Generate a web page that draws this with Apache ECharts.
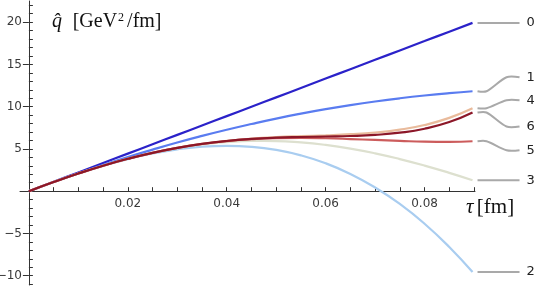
<!DOCTYPE html>
<html>
<head>
<meta charset="utf-8">
<script src="https://cdn.jsdelivr.net/npm/echarts@6/dist/echarts.min.js"></script>
<style>html,body{margin:0;padding:0;background:#fff}#c{width:545px;height:297px}</style>
</head>
<body>
<div id="c"></div>
<script>
const tau = [0, 0.005, 0.01, 0.015, 0.02, 0.025, 0.03, 0.035, 0.04, 0.045, 0.05, 0.055, 0.06, 0.065, 0.07, 0.075, 0.08, 0.085, 0.0897];
const order0 = [0, 1.11, 2.22, 3.33, 4.44, 5.55, 6.66, 7.77, 8.88, 9.99, 11.10, 12.21, 13.32, 14.43, 15.54, 16.65, 17.76, 18.87, 19.91];
const order1 = [0, 1.09, 2.12, 3.10, 4.04, 4.92, 5.76, 6.54, 7.27, 7.95, 8.59, 9.17, 9.70, 10.18, 10.61, 10.99, 11.32, 11.60, 11.82];
const order2 = [0, 1.08, 2.09, 3.00, 3.80, 4.46, 4.95, 5.27, 5.37, 5.25, 4.88, 4.24, 3.30, 2.04, 0.44, -1.51, -3.85, -6.60, -9.57];
const order3 = [0, 1.08, 2.09, 3.01, 3.83, 4.52, 5.09, 5.52, 5.80, 5.94, 5.93, 5.77, 5.47, 5.04, 4.48, 3.80, 3.03, 2.17, 1.30];
const order4 = [0, 1.08, 2.09, 3.01, 3.83, 4.54, 5.13, 5.60, 5.95, 6.21, 6.39, 6.51, 6.61, 6.74, 6.94, 7.28, 7.83, 8.67, 9.81];
const order5 = [0, 1.08, 2.09, 3.01, 3.83, 4.54, 5.12, 5.58, 5.92, 6.15, 6.27, 6.30, 6.26, 6.17, 6.06, 5.95, 5.86, 5.84, 5.91];
const order6 = [0, 1.08, 2.09, 3.01, 3.83, 4.54, 5.12, 5.59, 5.94, 6.18, 6.33, 6.41, 6.47, 6.53, 6.66, 6.92, 7.39, 8.18, 9.31];
const seriesLabels = ['0', '1', '2', '3', '4', '5', '6'];
const yTickLabels = [-10, -5, 5, 10, 15, 20];
const xTickLabels = [0.02, 0.04, 0.06, 0.08];

const allData = [order0, order1, order2, order3, order4, order5, order6];
const colors = ['#2b22c9', '#5a7cf0', '#a9cdf0', '#dde0cf', '#e9bb9c', '#cc5c5c', '#8c1728'];
const labelShift = [0, -14, 0, 0, -8, 9, 14];

const xMinor = [];
for (let i = 1; i <= 18; i++) xMinor.push(+(i * 0.005).toFixed(3));
const yMinor = [];
for (let v = -11; v <= 22; v++) yMinor.push(v);

const chart = echarts.init(document.getElementById('c'), null, {renderer: 'canvas'});
const fmtY = v => (v < 0 ? '\u2212' + Math.abs(v) : String(v));

const option = {
  animation: false,
  grid: {left: 20, right: 70, top: 1, bottom: 12, containLabel: false, outerBoundsMode: 'none'},
  xAxis: {
    type: 'value', min: -0.0018, max: 0.0902,
    axisLine: {onZero: true, onZeroAxisIndex: 0, lineStyle: {color: '#333', width: 1}},
    axisTick: {customValues: xMinor, inside: true, length: 4, lineStyle: {color: '#333'}},
    axisLabel: {customValues: xTickLabels, formatter: v => v.toFixed(2), margin: -87,
      color: '#3a3a3a', fontFamily: 'DejaVu Sans', fontSize: 12},
    splitLine: {show: false}
  },
  yAxis: [{
    type: 'value', min: -11.1, max: 22.5,
    axisLine: {onZero: true, onZeroAxisIndex: 0, lineStyle: {color: '#333', width: 1}},
    axisTick: {customValues: yTickLabels, inside: false, length: 6, lineStyle: {color: '#333'}},
    axisLabel: {customValues: yTickLabels, formatter: fmtY, margin: -2,
      color: '#3a3a3a', fontFamily: 'DejaVu Sans', fontSize: 12},
    splitLine: {show: false}
  }, {
    type: 'value', min: -11.1, max: 22.5, position: 'left',
    axisLine: {show: true, onZero: true, onZeroAxisIndex: 0, lineStyle: {color: '#333', opacity: 0}},
    axisTick: {customValues: yMinor, inside: true, length: 4, lineStyle: {color: '#333'}},
    axisLabel: {show: false},
    splitLine: {show: false}
  }],
  series: allData.map((d, i) => ({
    type: 'line', name: seriesLabels[i],
    data: d.map((v, j) => [tau[j], v]),
    smooth: true, showSymbol: false, symbol: 'none',
    lineStyle: {color: colors[i], width: 2.2},
    z: 2 + i
  }))
};
chart.setOption(option);

const graphics = [];
allData.forEach((d, i) => {
  const n = d.length - 1;
  const p = chart.convertToPixel({xAxisIndex: 0, yAxisIndex: 0}, [tau[n], d[n]]);
  const ly = p[1] + labelShift[i];
  graphics.push({
    type: 'polyline', silent: true,
    shape: {points: [[p[0] + 5, p[1]], [p[0] + 14, p[1]], [p[0] + 34, ly], [p[0] + 47, ly]], smooth: 0.3},
    style: {stroke: '#a9a9a9', lineWidth: 2, fill: null}
  });
  graphics.push({
    type: 'text', silent: true, x: p[0] + 54, y: ly,
    style: {text: seriesLabels[i], font: '13px "DejaVu Sans"', fill: '#222', verticalAlign: 'middle', align: 'left'}
  });
});
graphics.push({
  type: 'text', silent: true, x: 52, y: 22,
  style: {
    text: '{i|q\u0302}  {n|[GeV}{s|2}{n|/fm]}',
    verticalAlign: 'middle',
    rich: {
      i: {fontFamily: 'Liberation Serif', fontStyle: 'italic', fontSize: 20, fill: '#111', padding: [0, 4, 0, 0]},
      n: {fontFamily: 'Liberation Serif', fontSize: 20, fill: '#111'},
      s: {fontFamily: 'Liberation Serif', fontSize: 12, fill: '#111', verticalAlign: 'top', padding: [0, 3, 6, 1]}
    }
  }
});
graphics.push({
  type: 'text', silent: true, x: 466, y: 207,
  style: {
    text: '{i|\u03c4} {n|[fm]}',
    verticalAlign: 'middle',
    rich: {
      i: {fontFamily: 'Liberation Serif', fontStyle: 'italic', fontSize: 21, fill: '#111'},
      n: {fontFamily: 'Liberation Serif', fontSize: 21, fill: '#111'}
    }
  }
});
chart.setOption({graphic: graphics});
</script>
</body>
</html>
